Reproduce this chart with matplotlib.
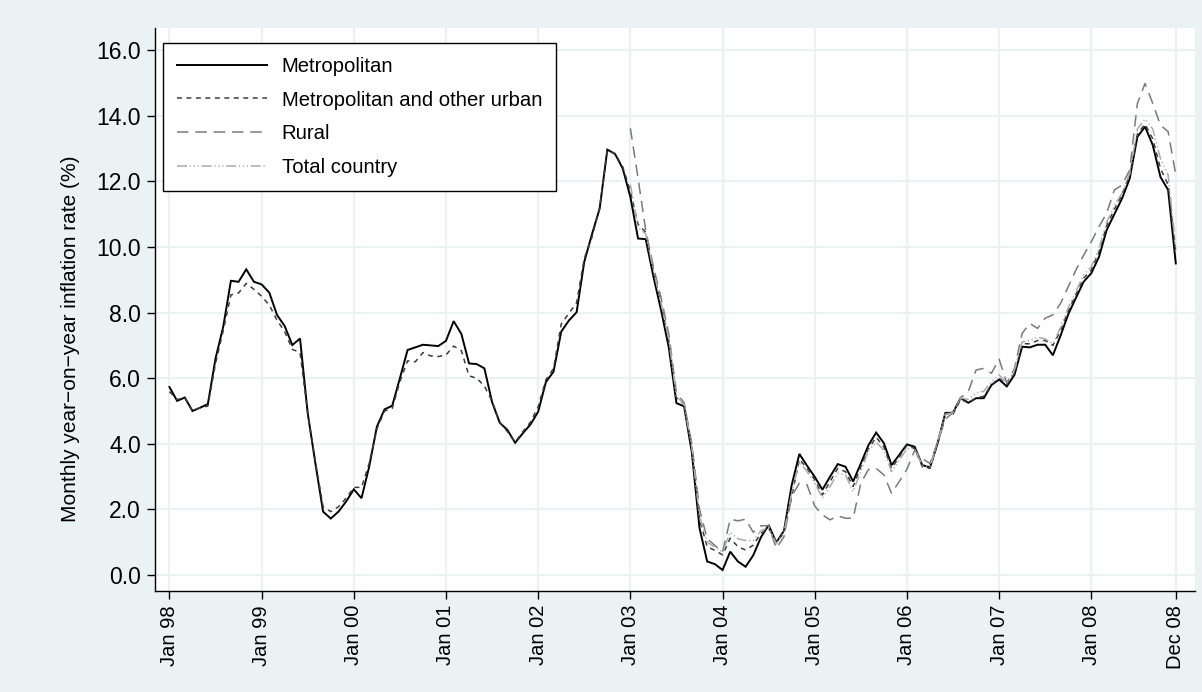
import numpy as np
import matplotlib
matplotlib.use("Agg")
import matplotlib.pyplot as plt

# ---------------- data (monthly, Jan 1998 - Dec 2008) ----------------
metropolitan = [
    5.73, 5.31, 5.41, 5.00, 5.10, 5.21, 6.60, 7.57, 8.97, 8.94, 9.32, 8.94,
    8.86, 8.61, 7.93, 7.59, 7.01, 7.21, 4.93, 3.40, 1.93, 1.72, 1.93, 2.24,
    2.61, 2.34, 3.30, 4.52, 5.05, 5.16, 6.00, 6.86, 6.94, 7.02, 7.00, 6.98,
    7.14, 7.74, 7.35, 6.45, 6.43, 6.30, 5.27, 4.64, 4.42, 4.03, 4.32, 4.59,
    4.98, 5.88, 6.20, 7.42, 7.76, 8.01, 9.55, 10.39, 11.17, 12.97, 12.84, 12.40,
    11.53, 10.26, 10.24, 9.10, 8.07, 6.94, 5.24, 5.14, 3.74, 1.43, 0.41, 0.33,
    0.15, 0.71, 0.41, 0.25, 0.60, 1.15, 1.52, 0.99, 1.35, 2.74, 3.69, 3.33,
    2.99, 2.60, 3.00, 3.38, 3.30, 2.85, 3.40, 3.96, 4.34, 4.02, 3.35, 3.66,
    3.98, 3.91, 3.35, 3.28, 4.02, 4.94, 4.95, 5.40, 5.25, 5.39, 5.39, 5.79,
    5.96, 5.75, 6.10, 6.96, 6.94, 7.02, 7.02, 6.70, 7.30, 7.95, 8.45, 8.94,
    9.20, 9.70, 10.52, 11.00, 11.48, 12.09, 13.36, 13.67, 13.11, 12.14, 11.74, 9.50,
]
metro_urban = [
    5.59, 5.35, 5.40, 5.00, 5.10, 5.15, 6.45, 7.45, 8.54, 8.60, 8.89, 8.71,
    8.50, 8.23, 7.77, 7.42, 6.88, 6.78, 4.95, 3.45, 2.08, 1.93, 2.08, 2.34,
    2.67, 2.67, 3.40, 4.45, 5.00, 5.08, 5.90, 6.53, 6.50, 6.78, 6.68, 6.66,
    6.71, 6.98, 6.84, 6.07, 6.00, 5.76, 5.30, 4.65, 4.37, 4.05, 4.37, 4.66,
    5.13, 5.95, 6.30, 7.65, 7.98, 8.30, 9.65, 10.30, 11.20, 12.95, 12.85, 12.45,
    11.70, 10.70, 10.45, 9.30, 8.25, 7.15, 5.40, 5.20, 3.90, 1.70, 0.86, 0.75,
    0.61, 1.12, 0.86, 0.76, 0.91, 1.27, 1.42, 1.02, 1.27, 2.39, 3.53, 3.25,
    2.90, 2.44, 2.85, 3.25, 3.15, 2.70, 3.30, 3.85, 4.20, 3.90, 3.25, 3.60,
    3.95, 3.85, 3.30, 3.25, 4.00, 4.90, 4.90, 5.35, 5.25, 5.40, 5.45, 5.80,
    6.00, 5.80, 6.15, 7.05, 7.05, 7.15, 7.15, 7.00, 7.45, 8.05, 8.55, 9.05,
    9.30, 9.85, 10.65, 11.15, 11.60, 12.20, 13.45, 13.75, 13.30, 12.40, 11.90, 9.85,
]
# Rural and total country series start in January 2003
rural_from_2003 = [
    13.62, 12.10, 10.50, 9.40, 8.45, 7.35, 5.55, 5.25, 4.00, 2.00, 1.10, 0.90,
    0.70, 1.70, 1.65, 1.70, 1.30, 1.50, 1.50, 0.81, 1.17, 2.40, 2.80, 2.75,
    2.10, 1.83, 1.68, 1.80, 1.73, 1.73, 2.80, 3.22, 3.25, 3.05, 2.49, 2.85,
    3.22, 3.80, 3.55, 3.40, 4.05, 4.75, 4.95, 5.40, 5.60, 6.25, 6.30, 6.15,
    6.58, 5.85, 6.30, 7.37, 7.67, 7.52, 7.83, 7.93, 8.28, 8.79, 9.30, 9.75,
    10.16, 10.62, 11.03, 11.74, 11.89, 12.35, 14.38, 14.99, 14.38, 13.72, 13.52, 12.20,
]
total_from_2003 = [
    11.90, 10.60, 10.40, 9.30, 8.30, 7.20, 5.45, 5.20, 3.90, 1.80, 1.00, 0.85,
    0.70, 1.30, 1.10, 1.05, 1.05, 1.35, 1.45, 0.95, 1.30, 2.50, 3.45, 3.15,
    2.80, 2.35, 2.70, 3.10, 3.05, 2.55, 3.15, 3.80, 4.05, 3.80, 3.15, 3.50,
    3.85, 3.85, 3.35, 3.30, 4.05, 4.90, 4.95, 5.40, 5.35, 5.55, 5.60, 5.90,
    6.10, 5.85, 6.25, 7.10, 7.15, 7.25, 7.20, 7.05, 7.55, 8.15, 8.65, 9.15,
    9.40, 9.95, 10.75, 11.25, 11.65, 12.25, 13.60, 13.90, 13.60, 12.70, 12.20, 10.00,
]
series_labels = ["Metropolitan", "Metropolitan and other urban", "Rural", "Total country"]
x_tick_labels = ["Jan 98", "Jan 99", "Jan 00", "Jan 01", "Jan 02", "Jan 03",
                 "Jan 04", "Jan 05", "Jan 06", "Jan 07", "Jan 08", "Dec 08"]
y_ticks = [0, 2, 4, 6, 8, 10, 12, 14, 16]

# ---------------- figure ----------------
plt.rcParams["font.family"] = ["Liberation Sans", "DejaVu Sans"]

n = len(metropolitan)
months = np.arange(n)
start_2003 = n - len(rural_from_2003)
rural = np.full(n, np.nan)
rural[start_2003:] = rural_from_2003
total = np.full(n, np.nan)
total[start_2003:] = total_from_2003

W, H = 1202, 692
fig = plt.figure(figsize=(W / 100, H / 100), dpi=100, facecolor="#EAF2F3")
ax = fig.add_axes([155 / W, 1 - 591 / H, (1195 - 155) / W, (591 - 28) / H])
ax.set_facecolor("white")

grid_c = "#EAF2F3"
lw = 1.1
ax.plot(months, metropolitan, color="black", lw=1.4, label=series_labels[0],
        solid_joinstyle="miter")
ax.plot(months, metro_urban, color="#3c3c3c", lw=lw, dashes=(3.2, 3.0),
        label=series_labels[1])
ax.plot(months, rural, color="#7a7a7a", lw=lw, dashes=(7.5, 4.5),
        label=series_labels[2])
ax.plot(months, total, color="#ababab", lw=lw,
        dashes=(6.5, 1.8, 0.8, 1.8, 0.8, 1.8, 0.8, 1.8), label=series_labels[3])

xt = list(range(0, n, 12)) + [n - 1]
ax.set_xticks(xt)
ax.set_xticklabels(x_tick_labels, rotation=90, fontsize=14.5)
ax.set_yticks(y_ticks)
ax.set_yticklabels([f"{v:.1f}" for v in y_ticks], fontsize=16.5)
ax.set_xlim(-1.88, 133.5)
ax.set_ylim(-0.49, 16.68)

ax.grid(True, color=grid_c, lw=1.6, zorder=0)
ax.set_axisbelow(True)
for s in ["top", "right"]:
    ax.spines[s].set_visible(False)
for s in ["left", "bottom"]:
    ax.spines[s].set_color("black")
    ax.spines[s].set_linewidth(1.0)
ax.tick_params(axis="both", direction="out", length=6, width=1.0, color="black",
               pad=4)

ax.set_ylabel("Monthly year\u2212on\u2212year inflation rate (%)", fontsize=15)
ax.yaxis.set_label_coords((80 - 155) / 1040, (591 - 339) / 563)

leg = ax.legend(loc="upper left", bbox_to_anchor=(0.0077, 0.973), fontsize=14.6,
                frameon=True, fancybox=False, edgecolor="black", framealpha=1,
                handlelength=4.44, handletextpad=0.74, labelspacing=0.72,
                borderpad=0.68, borderaxespad=0.0)
leg.get_frame().set_linewidth(1.0)

fig.savefig("out.png", dpi=100, facecolor=fig.get_facecolor())
